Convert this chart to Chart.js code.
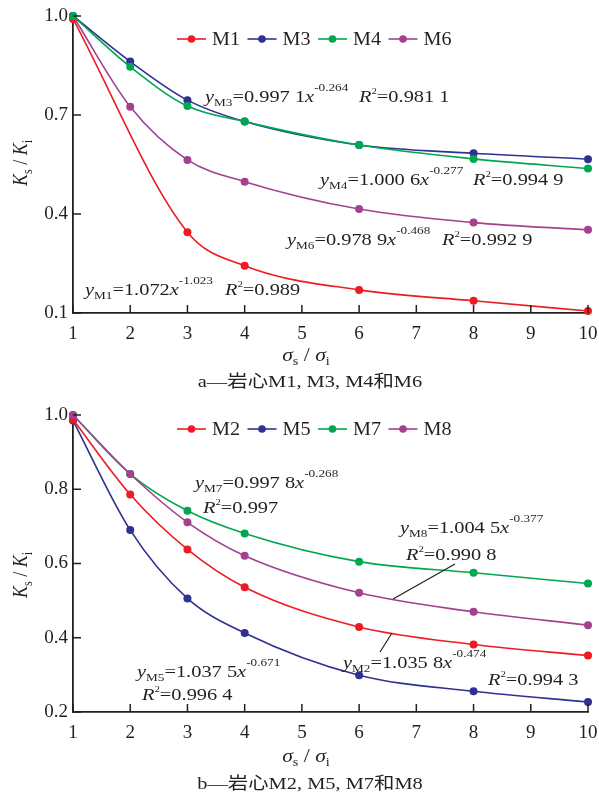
<!DOCTYPE html>
<html><head><meta charset="utf-8">
<script src="https://cdn.jsdelivr.net/npm/chart.js@4.4.0/dist/chart.umd.min.js"></script>
<style>
html,body{margin:0;padding:0;background:#fff;}
#wrap{width:599px;height:794px;position:relative;overflow:hidden;}
.c{position:absolute;left:0;width:599px;}
</style></head><body>
<div id="wrap">
<div class="c" style="top:0;height:395px"><canvas id="ca"></canvas></div>
<div class="c" style="top:395px;height:399px"><canvas id="cb"></canvas></div>
</div>
<script>
// ---- data ----
const xValues = [1, 2, 3, 4, 6, 8, 10];
const xTicks = [1, 2, 3, 4, 5, 6, 7, 8, 9, 10];
// panel a
const yTicksA = [0.1, 0.4, 0.7, 1.0];
const M1 = [0.991, null, 0.345, 0.243, 0.170, 0.137, 0.106];
const M3 = [1.000, 0.862, 0.745, 0.680, 0.609, 0.584, 0.566];
const M4 = [1.000, 0.846, 0.727, 0.680, 0.609, 0.567, 0.538];
const M6 = [1.000, 0.725, 0.564, 0.498, 0.415, 0.374, 0.352];
// panel b
const yTicksB = [0.2, 0.4, 0.6, 0.8, 1.0];
const M2 = [0.988, 0.786, 0.638, 0.536, 0.429, 0.382, 0.352];
const M5 = [0.985, 0.690, 0.506, 0.413, 0.299, 0.256, 0.227];
const M7 = [1.000, 0.841, 0.742, 0.681, 0.605, 0.575, 0.546];
const M8 = [1.000, 0.841, 0.711, 0.621, 0.521, 0.470, 0.434];

const COL = {red:'#ed1c24', blue:'#2e3192', green:'#00a651', purple:'#a3418f'};
const FONT = '"Liberation Serif","Noto Sans CJK SC",serif';
const INK = '#231f20';
const SX = 1.2;

function pts(vals){ return xValues.map((x,i)=>({x, y: vals[i]})).filter(p=>p.y!==null); }

function ds(label, vals, color, order){
  return {label, data: pts(vals), borderColor: color, backgroundColor: color,
    pointBackgroundColor: color, pointBorderColor: color, pointRadius: 4, pointBorderWidth: 0,
    borderWidth: 1.6, cubicInterpolationMode: 'monotone', clip: false, order};
}

function partFont(k){
  switch(k){
    case 'i': return {f:'italic 17px '+FONT, dy:0};
    case 'sub': return {f:'11px '+FONT, dy:4};
    case 'sup': return {f:'11px '+FONT, dy:-11};
    case 'sq': return {f:'9px '+FONT, dy:-8};
    case 'K': return {f:'italic 18px '+FONT, dy:0};
    case 'ks': return {f:'12px '+FONT, dy:4};
    case 'tn': return {f:'18px '+FONT, dy:0};
    case 'cap': return {f:'17px '+FONT, dy:0};
    default: return {f:'17px '+FONT, dy:0};
  }
}
function measureRich(ctx, parts){
  let w=0; for(const [t,k] of parts){ ctx.font = partFont(k).f; w += ctx.measureText(t).width; } return w;
}
function drawRich(ctx, x, y, parts, sx, align){
  ctx.save();
  ctx.translate(x, y);
  ctx.scale(sx, 1);
  ctx.textBaseline = 'alphabetic'; ctx.textAlign = 'left'; ctx.fillStyle = INK;
  let cx = 0;
  if (align === 'center') cx = -measureRich(ctx, parts)/2;
  for (const [t,k] of parts){
    const pf = partFont(k); ctx.font = pf.f;
    ctx.fillText(t, cx, pf.dy);
    cx += ctx.measureText(t).width;
  }
  ctx.restore();
}

const innerTicks = {
  id: 'innerTicks',
  afterDraw(chart){
    const {ctx, chartArea:a, scales:{x, y}} = chart;
    ctx.save(); ctx.strokeStyle = INK; ctx.lineWidth = 1.5;
    x.ticks.forEach(t=>{ const px = x.getPixelForValue(t.value); ctx.beginPath(); ctx.moveTo(px, a.bottom); ctx.lineTo(px, a.bottom-8); ctx.stroke(); });
    y.ticks.forEach(t=>{ const py = y.getPixelForValue(t.value); ctx.beginPath(); ctx.moveTo(a.left, py); ctx.lineTo(a.left+8, py); ctx.stroke(); });
    ctx.restore();
  }
};

const decor = {
  id: 'decor',
  afterDraw(chart, args, opts){
    const ctx = chart.ctx;
    const lg = opts.legend;
    chart.data.datasets.forEach((d, i)=>{
      const x0 = lg.xs[i], y0 = lg.y;
      ctx.save(); ctx.strokeStyle = d.borderColor; ctx.lineWidth = 1.6;
      ctx.beginPath(); ctx.moveTo(x0, y0); ctx.lineTo(x0+29, y0); ctx.stroke();
      ctx.fillStyle = d.borderColor; ctx.beginPath(); ctx.arc(x0+14.5, y0, 3.8, 0, Math.PI*2); ctx.fill();
      ctx.restore();
      drawRich(ctx, x0+35, y0+6, [[d.label,'tn']], 1.12);
    });
    (opts.lines||[]).forEach(l=>{
      ctx.save(); ctx.strokeStyle = INK; ctx.lineWidth = 1.2;
      ctx.beginPath(); ctx.moveTo(l[0], l[1]); ctx.lineTo(l[2], l[3]); ctx.stroke(); ctx.restore();
    });
    opts.texts.forEach(t=> drawRich(ctx, t.x, t.y, t.parts, SX));
    const yt = opts.ytitle;
    ctx.save(); ctx.translate(yt.x, yt.y); ctx.rotate(-Math.PI/2); ctx.scale(1, 1.15);
    drawRich(ctx, 0, 0, [['K','K'],['s','ks'],[' / ','tn'],['K','K'],['i','ks']], 1, 'center');
    ctx.restore();
    const xt = opts.xtitle;
    drawRich(ctx, xt.x, xt.y, [['σ','K'],['s','ks'],[' / ','tn'],['σ','K'],['i','ks']], SX, 'center');
    const cp = opts.caption;
    drawRich(ctx, cp.x, cp.y, [[cp.text,'cap']], 1.2, 'center');
  }
};

function makeChart(id, datasets, yMin, yMax, yTicks, topPad, xAxisH, decorOpts){
  return new Chart(document.getElementById(id), {
    type: 'line',
    data: {datasets},
    options: {
      responsive: true, maintainAspectRatio: false, animation: false,
      layout: {padding: {top: topPad, right: 11, left: 0, bottom: 0}},
      plugins: {legend: {display: false}, tooltip: {enabled: false}, decor: decorOpts},
      scales: {
        x: {type: 'linear', min: 1, max: 10,
          afterBuildTicks: s=>{ s.ticks = xTicks.map(v=>({value: v})); },
          afterFit: s=>{ s.height = xAxisH; s.paddingLeft = 0; s.paddingRight = 0; },
          grid: {display: true, drawOnChartArea: false, drawTicks: false},
          border: {display: true, color: INK, width: 1.8},
          ticks: {padding: 10, color: INK, font: {family: FONT, size: 19}, callback: v=>String(v), maxRotation: 0, autoSkip: false}
        },
        y: {type: 'linear', min: yMin, max: yMax,
          afterBuildTicks: s=>{ s.ticks = yTicks.map(v=>({value: v})); },
          afterFit: s=>{ s.width = 73; s.paddingTop = 0; s.paddingBottom = 0; },
          grid: {display: true, drawOnChartArea: false, drawTicks: false},
          border: {display: true, color: INK, width: 1.8},
          ticks: {padding: 5, color: INK, font: {family: FONT, size: 19}, callback: v=>Number(v).toFixed(1)}
        }
      }
    },
    plugins: [innerTicks, decor]
  });
}

const legendXs = [177, 247.5, 318, 388.5];

makeChart('ca', [
  ds('M1', M1, COL.red, 1),
  ds('M3', M3, COL.blue, 2),
  ds('M4', M4, COL.green, 0),
  ds('M6', M6, COL.purple, 3)
], 0.1, 1.0, yTicksA, 16, 82, {
  legend: {xs: legendXs, y: 39},
  texts: [
    {x:205, y:102, parts:[['y','i'],['M3','sub'],['=0.997 1','n'],['x','i'],['-0.264','sup']]},
    {x:359, y:102, parts:[['R','i'],['2','sq'],['=0.981 1','n']]},
    {x:320, y:185, parts:[['y','i'],['M4','sub'],['=1.000 6','n'],['x','i'],['-0.277','sup']]},
    {x:473, y:185, parts:[['R','i'],['2','sq'],['=0.994 9','n']]},
    {x:287, y:245, parts:[['y','i'],['M6','sub'],['=0.978 9','n'],['x','i'],['-0.468','sup']]},
    {x:442, y:245, parts:[['R','i'],['2','sq'],['=0.992 9','n']]},
    {x:85, y:295, parts:[['y','i'],['M1','sub'],['=1.072','n'],['x','i'],['-1.023','sup']]},
    {x:225, y:295, parts:[['R','i'],['2','sq'],['=0.989','n']]}
  ],
  ytitle: {x: 27, y: 163},
  xtitle: {x: 306, y: 361},
  caption: {x: 310, y: 387, text: 'a—岩心M1, M3, M4和M6'}
});

makeChart('cb', [
  ds('M2', M2, COL.red, 1),
  ds('M5', M5, COL.blue, 3),
  ds('M7', M7, COL.green, 2),
  ds('M8', M8, COL.purple, 0)
], 0.2, 1.0, yTicksB, 20, 82, {
  legend: {xs: legendXs, y: 34},
  lines: [[455, 169, 393, 204], [380, 257, 392, 238]],
  texts: [
    {x:195, y:93, parts:[['y','i'],['M7','sub'],['=0.997 8','n'],['x','i'],['-0.268','sup']]},
    {x:203, y:118, parts:[['R','i'],['2','sq'],['=0.997','n']]},
    {x:400, y:138, parts:[['y','i'],['M8','sub'],['=1.004 5','n'],['x','i'],['-0.377','sup']]},
    {x:406, y:165, parts:[['R','i'],['2','sq'],['=0.990 8','n']]},
    {x:343, y:273, parts:[['y','i'],['M2','sub'],['=1.035 8','n'],['x','i'],['-0.474','sup']]},
    {x:488, y:290, parts:[['R','i'],['2','sq'],['=0.994 3','n']]},
    {x:137, y:282, parts:[['y','i'],['M5','sub'],['=1.037 5','n'],['x','i'],['-0.671','sup']]},
    {x:142, y:305, parts:[['R','i'],['2','sq'],['=0.996 4','n']]}
  ],
  ytitle: {x: 27, y: 180},
  xtitle: {x: 306, y: 367},
  caption: {x: 310, y: 394, text: 'b—岩心M2, M5, M7和M8'}
});
</script>
</body></html>
